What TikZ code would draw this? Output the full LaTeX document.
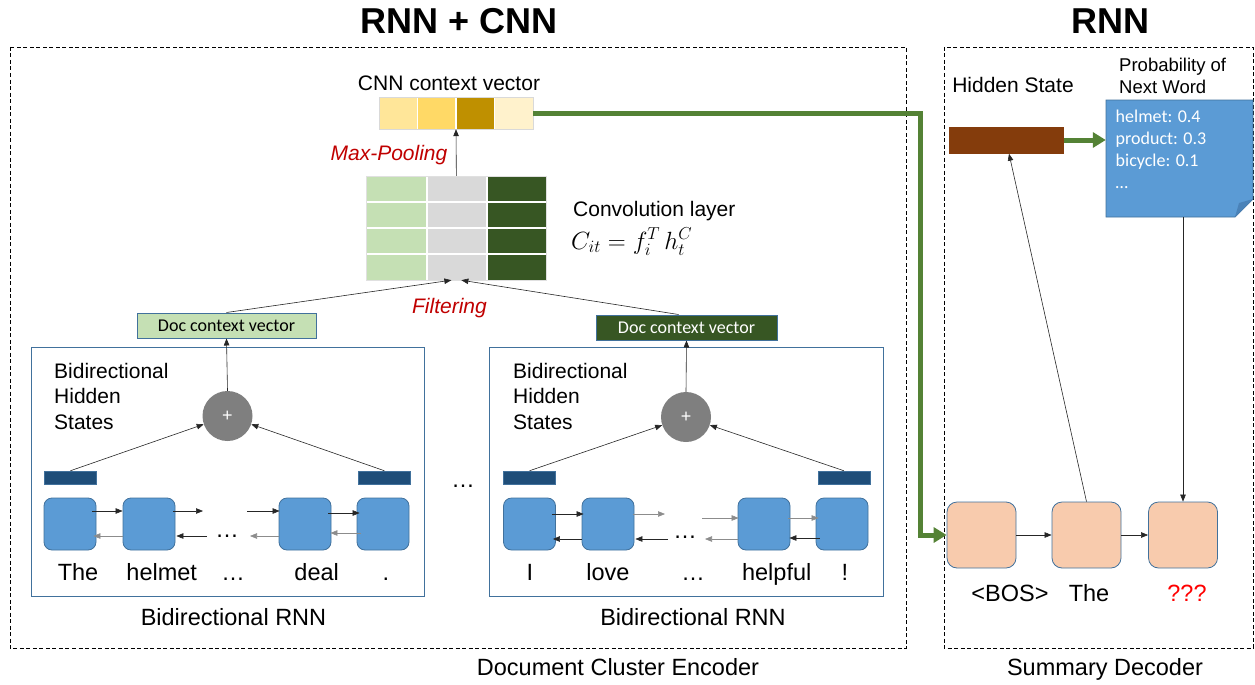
\documentclass[tikz,border=0pt]{standalone}
\usepackage{fontspec}
\setmainfont{Liberation Sans}
\newfontfamily\calib{Carlito}
\usetikzlibrary{arrows.meta}
\definecolor{cellblue}{HTML}{5B9BD5}
\definecolor{bordblue}{HTML}{41719C}
\definecolor{hbar}{HTML}{1F4E79}
\definecolor{plusgray}{HTML}{7F7F7F}
\definecolor{peach}{HTML}{F8CBAD}
\definecolor{brownbar}{HTML}{843C0C}
\definecolor{gline}{HTML}{548235}
\definecolor{lgreen}{HTML}{C5E0B4}
\definecolor{lgray}{HTML}{D9D9D9}
\definecolor{dgreen}{HTML}{375623}
\definecolor{y1}{HTML}{FFE699}
\definecolor{y2}{HTML}{FFD966}
\definecolor{y3}{HTML}{BF9000}
\definecolor{y4}{HTML}{FFF2CC}
\definecolor{darkred}{HTML}{C00000}
\definecolor{notefold}{HTML}{4A82B8}
\begin{document}
\begin{tikzpicture}[x=1pt,y=-1pt,
  dbox/.style={draw=black, line width=0.9pt, dash pattern=on 4pt off 2.5pt},
  panel/.style={draw=bordblue, line width=1pt},
  rcell/.style={draw=bordblue, fill=cellblue, line width=0.8pt, rounded corners=8pt, minimum width=52pt, minimum height=52pt, inner sep=0pt},
  dcell/.style={draw=bordblue, fill=peach, line width=0.8pt, rounded corners=10pt, minimum width=69pt, minimum height=66pt, inner sep=0pt},
  hbarst/.style={fill=hbar, draw=bordblue, line width=0.5pt, minimum width=52pt, minimum height=13pt, inner sep=0pt},
  plus/.style={circle, fill=plusgray, minimum size=50pt, inner sep=0pt, text=white, font=\fontsize{18}{20}\selectfont},
  arr/.style={-{Triangle[length=7pt,width=5.5pt]}, line width=0.6pt, draw=black!85},
  arrg/.style={-{Triangle[length=7pt,width=5.5pt]}, line width=0.6pt, draw=black!45},
  garrow/.style={-{Triangle[length=13pt,width=15pt]}, line width=5pt, draw=gline},
  word/.style={inner sep=0pt, anchor=base, font=\fontsize{23.5}{28}\selectfont},
  mid/.style={inner sep=0pt, anchor=base, font=\fontsize{21}{25.5}\selectfont},
  redit/.style={inner sep=0pt, anchor=base, text=darkred, font=\fontsize{21}{25}\selectfont\itshape},
  docv/.style={draw=bordblue, line width=1pt, minimum width=179pt, minimum height=25pt, inner sep=0pt, font=\calib\fontsize{18}{20}\selectfont},
  title/.style={inner sep=0pt, anchor=base, font=\fontsize{36}{40}\selectfont\bfseries}
]
\useasboundingbox (0,0) rectangle (1255,685);

% titles
\node[title] (t1) at (459,34) {RNN + CNN};
\node[title] (t2) at (1110,34) {RNN};

% dashed outer boxes
\draw[dbox] (10,47) rectangle (906,648);
\draw[dbox] (944,47) rectangle (1253,648);
\node[word] (enc) at (618,675) {Document Cluster Encoder};
\node[word] (dec) at (1105,675) {Summary Decoder};

% ---------- CNN context vector ----------
\node[mid] (cnnlbl) at (449,90.5) {CNN context vector};
\fill[y1] (379,97) rectangle (417.5,129);
\fill[y2] (417.5,97) rectangle (456,129);
\fill[y3] (456,97) rectangle (494.5,129);
\fill[y4] (494.5,97) rectangle (533,129);
\draw[white, line width=1.5pt] (417.5,97) -- (417.5,129) (456,97) -- (456,129) (494.5,97) -- (494.5,129);
\draw[black!15, line width=0.6pt] (379,97) rectangle (533,129);
\node[inner sep=0pt, minimum width=154pt, minimum height=32pt] (cnnv) at (456,113) {};

% ---------- Convolution layer ----------
\fill[lgreen] (366.7,176) rectangle (427,280);
\fill[lgray] (427,176) rectangle (487,280);
\fill[dgreen] (487,176) rectangle (546,280);
\draw[white, line width=1.6pt] (427,176) -- (427,280) (487,176) -- (487,280)
  (366.7,202) -- (546,202) (366.7,228) -- (546,228) (366.7,254) -- (546,254);
\draw[black!12, line width=0.6pt] (366.7,176) rectangle (546,280);
\node[inner sep=0pt, minimum width=179.3pt, minimum height=104pt] (conv) at (456.35,228) {};
\node[mid, anchor=base west] (convlbl) at (573,216.5) {Convolution layer};
\node[inner sep=0pt, anchor=base west, font=\fontsize{25}{30}\selectfont] (formula) at (571,249) {$C_{it} = f_i^{T}\,h_t^{C}$};
\node[redit] (maxp) at (389,160) {Max-Pooling};
\node[redit] (filt) at (449.5,313) {Filtering};
\draw[arr] (conv.north) -- (cnnv.south);

% ---------- Doc context vectors ----------
\node[docv, fill=lgreen] (d1) at (226.5,325.5) {Doc context vector};
\node[docv, fill=dgreen, text=white, minimum width=181pt] (d2) at (686.5,327.5) {Doc context vector};
\draw[arr] (d1.north) -- ([xshift=-5pt]conv.south);
\draw[arr] ([xshift=-8pt]d2.north) -- ([xshift=5pt]conv.south);

% ---------- Left Bidirectional RNN ----------
\draw[panel] (31,347) rectangle (424,596);
\node[inner sep=0pt, anchor=north west, align=left, font=\fontsize{21}{25.5}\selectfont] (bh1) at (54,363) {Bidirectional\\Hidden\\States};
\node[plus] (p1) at (227.5,416) {+};
\node[hbarst] (hb1) at (70.4,477.5) {};
\node[hbarst] (hb2) at (384.4,477.5) {};
\draw[arr] (hb1.north) -- (p1);
\draw[arr] (hb2.north) -- (p1);
\draw[arr] (p1.north) -- (d1.south);
\node[rcell] (l1) at (70,524) {};
\node[rcell] (l2) at (149,524) {};
\node[rcell] (l3) at (305,524) {};
\node[rcell] (l4) at (383,524) {};
\coordinate (la) at (203,511);
\coordinate (lb) at (247,511);
\coordinate (lc) at (207,536);
\coordinate (ld) at (250,536);
\node[inner sep=0pt, font=\fontsize{23.5}{28}\selectfont] (ldots) at (227,536) {…};
\draw[arr] ([xshift=-4pt,yshift=13pt]l1.east) -- ([yshift=13pt]l2.west);
\draw[arrg] ([yshift=-12pt]l2.west) -- ([xshift=-3pt,yshift=-12pt]l1.east);
\draw[arr] ([xshift=-2pt,yshift=13pt]l2.east) -- (la);
\draw[arr] (lc) -- ([xshift=1pt,yshift=-12pt]l2.east);
\draw[arr] (lb) -- ([xshift=1pt,yshift=13pt]l3.west);
\draw[arrg] ([yshift=-12pt]l3.west) -- (ld);
\draw[arr] ([xshift=-3pt,yshift=11pt]l3.east) -- ([xshift=3pt,yshift=11pt]l4.west);
\draw[arrg] ([xshift=4pt,yshift=-9pt]l4.west) -- ([xshift=-1pt,yshift=-9pt]l3.east);
\node[word] (w1) at (78,580) {The};
\node[word] (w2) at (161.7,580) {helmet};
\node[word] (w3) at (233,580) {…};
\node[word] (w4) at (316.7,580) {deal};
\node[word] (w5) at (386,580) {.};
\node[word] (brnn1) at (233.5,625) {Bidirectional RNN};

% middle dots
\node[word] (middots) at (463,487) {…};

% ---------- Right Bidirectional RNN ----------
\draw[panel] (489,347) rectangle (883,596);
\node[inner sep=0pt, anchor=north west, align=left, font=\fontsize{21}{25.5}\selectfont] (bh2) at (513,363) {Bidirectional\\Hidden\\States};
\node[plus] (p2) at (686,417) {+};
\node[hbarst] (hb3) at (529.5,477.5) {};
\node[hbarst] (hb4) at (843.9,477.5) {};
\draw[arr] (hb3.north) -- (p2);
\draw[arr] (hb4.north) -- (p2);
\draw[arr] (p2.north) -- (d2.south);
\node[rcell] (r1) at (529.5,524) {};
\node[rcell] (r2) at (608,524) {};
\node[rcell] (r3) at (764,524) {};
\node[rcell] (r4) at (842,524) {};
\coordinate (ra) at (665,514);
\coordinate (rb) at (702,518);
\coordinate (rc) at (668,539);
\coordinate (rd) at (705,539);
\node[inner sep=0pt, font=\fontsize{23.5}{28}\selectfont] (rdots) at (685,537) {…};
\draw[arr] ([xshift=-4pt,yshift=10pt]r1.east) -- ([xshift=2pt,yshift=10pt]r2.west);
\draw[arr] ([yshift=-15pt]r2.west) -- ([xshift=-3pt,yshift=-15pt]r1.east);
\draw[arrg] ([xshift=-1pt,yshift=10pt]r2.east) -- (ra);
\draw[arr] (rc) -- ([xshift=1pt,yshift=-15pt]r2.east);
\draw[arrg] (rb) -- ([xshift=1pt,yshift=6pt]r3.west);
\draw[arrg] ([yshift=-15pt]r3.west) -- (rd);
\draw[arrg] ([xshift=-2pt,yshift=6pt]r3.east) -- ([xshift=3pt,yshift=6pt]r4.west);
\draw[arr] ([xshift=4pt,yshift=-14pt]r4.west) -- ([xshift=-1pt,yshift=-14pt]r3.east);
\node[word] (v1) at (530,580) {I};
\node[word] (v2) at (608,580) {love};
\node[word] (v3) at (693,580) {…};
\node[word] (v4) at (776.7,580) {helpful};
\node[word] (v5) at (845,580) {!};
\node[word] (brnn2) at (693,625) {Bidirectional RNN};

% ---------- Decoder ----------
\node[mid] (hslbl) at (1013,92.3) {Hidden State};
\node[inner sep=0pt, anchor=north west, align=left, font=\fontsize{18.5}{22.3}\selectfont] (problbl) at (1119,58) {Probability of\\Next Word};
\node[fill=brownbar, minimum width=115pt, minimum height=27pt, inner sep=0pt] (hs) at (1006.5,140) {};
\fill[cellblue, draw=bordblue, line width=0.8pt] (1106,100) -- (1253,100) -- (1253,199) -- (1235,217) -- (1106,217) -- cycle;
\fill[notefold] (1253,199) -- (1235,217) -- (1239,203) -- cycle;
\node[inner sep=0pt, minimum width=147pt, minimum height=117pt] (prob) at (1179.5,158.5) {};
\node[inner sep=0pt, anchor=north west, align=left, text=white, font=\calib\fontsize{18}{22}\selectfont] (probtxt) at (1115.5,109.5) {helmet: 0.4\\product: 0.3\\bicycle: 0.1\\…};
\draw[garrow] (hs.east) -- (prob.west |- hs.east);

\node[dcell] (c1) at (981.5,535) {};
\node[dcell] (c2) at (1086.5,535) {};
\node[dcell] (c3) at (1183,535) {};
\draw[arr] (c1) -- (c2);
\draw[arr] (c2) -- (c3);
\draw[arr] (c2.north) -- ([xshift=2.5pt]hs.south);
\draw[arr] (c3.north |- prob.south) -- (c3.north);
\node[word] (bos) at (1010,601.7) {<BOS>};
\node[word] (the) at (1089,601.7) {The};
\node[word, text=red] (qqq) at (1187,601.7) {???};

% big green connector
\coordinate (gx) at (920.5,0);
\draw[garrow] (cnnv.east) -- (cnnv.east -| gx) |- (c1.west);
\end{tikzpicture}
\end{document}
